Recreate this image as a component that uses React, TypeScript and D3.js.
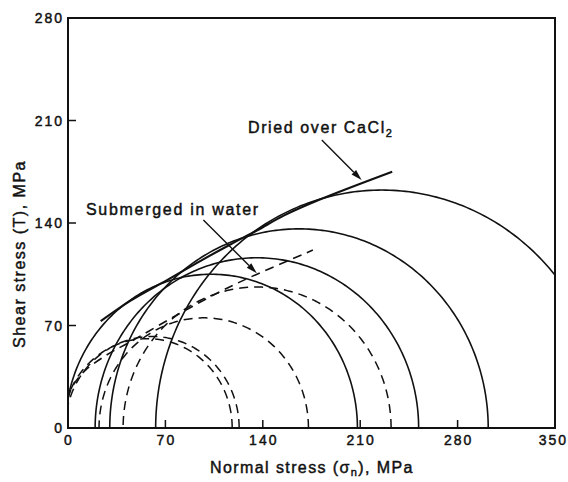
import React from "react";
import * as d3 from "d3";

// Mohr circles (left and right end on the normal-stress axis, MPa)
const solidLeft = [-2, 19.5, 30, 63];
const solidRight = [208, 252, 302, 388];
const dashedLeft = [-4, -2, 22.3, 39.6];
const dashedRight = [118, 123, 172.8, 232.2];

// Failure envelopes
const driedSigma = [23.5, 45, 73, 95, 116, 136, 155, 181, 233];
const driedTau = [73, 87, 102, 114, 125, 135, 145, 156, 175];
const wetSigma = [0, 3, 12, 28, 45, 78, 107, 131, 176];
const wetTau = [20, 28, 39, 50, 59, 77, 92, 103, 121.5];

const xTicks = [0, 70, 140, 210, 280, 350];
const yTicks = [0, 70, 140, 210, 280];

const W = 568;
const H = 482;
const font = "'Liberation Sans', Arial, Helvetica, sans-serif";

export default function App() {
  const x = d3.scaleLinear().domain([0, 350]).range([68, 555]);
  const y = d3.scaleLinear().domain([0, 280]).range([428, 18]);

  const line = d3
    .line<[number, number]>()
    .x((d) => x(d[0]))
    .y((d) => y(d[1]));
  const smooth = d3
    .line<[number, number]>()
    .x((d) => x(d[0]))
    .y((d) => y(d[1]))
    .curve(d3.curveCatmullRom.alpha(0.5));

  const circlePath = (l: number, r: number) => {
    const c = (l + r) / 2;
    const rad = (r - l) / 2;
    const pts: [number, number][] = d3
      .range(0, 181)
      .map((i) => {
        const t = (Math.PI * i) / 180;
        return [c + rad * Math.cos(t), rad * Math.sin(t)] as [number, number];
      });
    return line(pts) || "";
  };

  const dried: [number, number][] = driedSigma.map((s, i) => [s, driedTau[i]]);
  const wet: [number, number][] = wetSigma.map((s, i) => [s, wetTau[i]]);

  const x0 = x(0), x1 = x(350), yT = y(280), yB = y(0);

  const arrow = (sx: number, sy: number, ex: number, ey: number, key: string) => {
    const ang = Math.atan2(ey - sy, ex - sx);
    const L = 11, Wd = 3.2;
    const bx = ex - L * Math.cos(ang), by = ey - L * Math.sin(ang);
    const px = -Math.sin(ang) * Wd, py = Math.cos(ang) * Wd;
    return (
      <g key={key}>
        <line x1={sx} y1={sy} x2={bx} y2={by} stroke="#111" strokeWidth={1.4} />
        <path d={`M${ex},${ey}L${bx + px},${by + py}L${bx - px},${by - py}Z`} fill="#111" />
      </g>
    );
  };

  const txt = { fill: "#111", stroke: "#111", strokeWidth: 0.45, fontFamily: font };

  return (
    <svg width={W} height={H} style={{ position: "absolute", left: 0, top: 0, background: "#fff" }}>
      <defs>
        <clipPath id="plot">
          <rect x={x0} y={yT} width={x1 - x0} height={yB - yT} />
        </clipPath>
      </defs>
      <rect x={0} y={0} width={W} height={H} fill="#fff" />
      <g clipPath="url(#plot)" fill="none" stroke="#111">
        {solidLeft.map((l, i) => (
          <path key={"s" + i} d={circlePath(l, solidRight[i])} strokeWidth={1.6} />
        ))}
        {dashedLeft.map((l, i) => (
          <path key={"d" + i} d={circlePath(l, dashedRight[i])} strokeWidth={1.5} strokeDasharray="9,6" />
        ))}
        <path d={smooth(dried) || ""} strokeWidth={2.1} />
        <path d={smooth(wet) || ""} strokeWidth={1.6} strokeDasharray="9,6" />
      </g>
      {/* frame */}
      <rect x={x0} y={yT} width={x1 - x0} height={yB - yT} fill="none" stroke="#111" strokeWidth={2} />
      {/* ticks */}
      {xTicks.filter((t) => t > 0 && t < 350).map((t) => (
        <line key={"xt" + t} x1={x(t)} x2={x(t)} y1={yB} y2={yB - 8} stroke="#111" strokeWidth={1.5} />
      ))}
      {yTicks.filter((t) => t > 0 && t < 280).map((t) => (
        <line key={"yt" + t} x1={x0} x2={x0 + 8} y1={y(t)} y2={y(t)} stroke="#111" strokeWidth={1.5} />
      ))}
      {/* tick labels */}
      <g {...txt} fontSize={14} letterSpacing={2}>
        {xTicks.map((t, i) => (
          <text
            key={"xl" + t}
            x={i === xTicks.length - 1 ? W : x(t) + 1}
            y={yB + 17}
            textAnchor={i === xTicks.length - 1 ? "end" : "middle"}
          >
            {t}
          </text>
        ))}
        {yTicks.map((t) => (
          <text key={"yl" + t} x={x0 - 4} y={y(t) + 5} textAnchor="end">
            {t}
          </text>
        ))}
      </g>
      {/* axis titles */}
      <text
        {...txt}
        fontSize={16}
        letterSpacing={1.5}
        textAnchor="middle"
        transform={`translate(25,254) rotate(-90)`}
      >
        Shear stress (T), MPa
      </text>
      <text {...txt} fontSize={16} letterSpacing={1.4} x={312} y={473} textAnchor="middle">
        Normal stress (σ<tspan fontSize={11} dy={3}>n</tspan>
        <tspan dy={-3}>), MPa</tspan>
      </text>
      {/* annotations */}
      <text {...txt} fontSize={16} letterSpacing={1.6} x={248} y={133}>
        Dried over CaCl<tspan fontSize={11} dy={4}>2</tspan>
      </text>
      <text {...txt} fontSize={16} letterSpacing={1.7} x={86} y={215}>
        Submerged in water
      </text>
      {arrow(x(182.4), y(196.7), x(211), y(169.4), "a1")}
      {arrow(x(97.3), y(142), x(135.7), y(105.7), "a2")}
    </svg>
  );
}
